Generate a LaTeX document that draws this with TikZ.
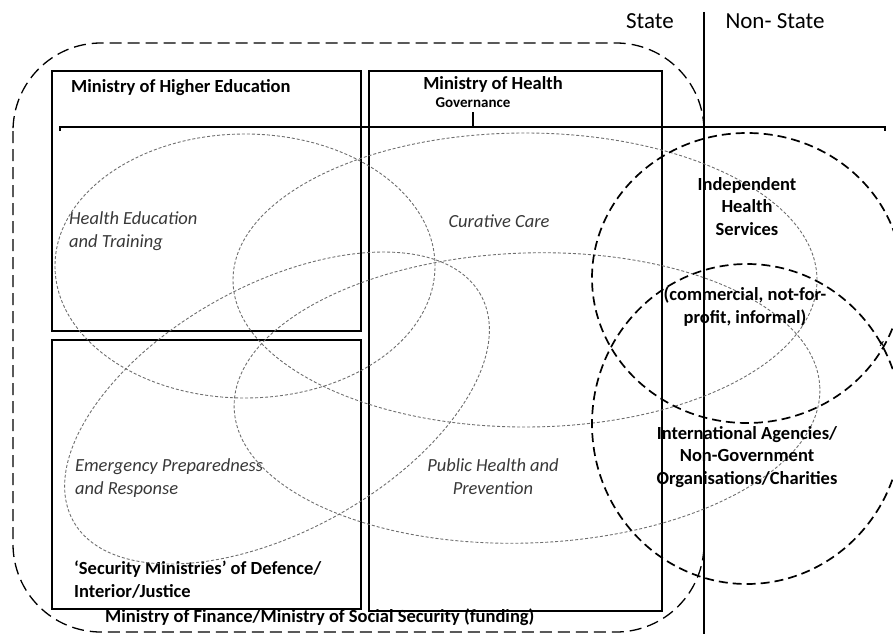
\documentclass[tikz,border=0pt]{standalone}
\usepackage{fontspec}
\setmainfont{Carlito}
\definecolor{areagray}{HTML}{6E6E6E}
\definecolor{labelgray}{HTML}{383838}
\begin{document}
\begin{tikzpicture}[x=1pt,y=-1pt,
    boxline/.style={line width=1.5pt},
    zone/.style={line width=1.3pt, dash pattern=on 12pt off 6pt},
    sector/.style={line width=1.7pt, dash pattern=on 9pt off 5pt},
    area/.style={areagray, line width=0.9pt, dash pattern=on 3pt off 2pt},
    ministry/.style={font=\bfseries\fontsize{18.5}{22.5}\selectfont, inner sep=0pt, align=left},
    function/.style={font=\itshape\fontsize{18.5}{22.5}\selectfont, text=labelgray, inner sep=0pt},
    nonstate/.style={font=\bfseries\fontsize{18.5}{22.5}\selectfont, inner sep=0pt, align=center},
    side/.style={font=\fontsize{23}{26}\selectfont, inner sep=0pt}]
    \useasboundingbox (0,0) rectangle (893,634);

    % Overall state boundary and the state / non-state split
    \draw[zone, rounded corners=88pt] (13,43) rectangle (704,632);
    \draw[boxline] (704,12) -- (704,634);
    \node[side, anchor=base] (state) at (650,29) {State};
    \node[side, anchor=base] (nonstate) at (775,29) {Non- State};

    % Governance bar
    \draw[line width=2pt] (60,131) -- (60,127) -- (885,127) -- (885,131);
    \draw[line width=2pt] (473,112) -- (473,127);

    % Ministries
    \draw[boxline] (52,71) rectangle (361,331);
    \draw[boxline] (52,340) rectangle (361,609);
    \draw[boxline] (369,71) rectangle (662,611);
    \node[ministry, anchor=base west] (mhe) at (71,92) {Ministry of Higher Education};
    \node[ministry, anchor=base] (moh) at (493,89) {Ministry of Health};
    \node[ministry, anchor=base, font=\bfseries\fontsize{15}{18}\selectfont] (gov) at (473,107) {Governance};
    \node[ministry, anchor=base west] (sec) at (74,597) {`Security Ministries' of Defence/\\Interior/Justice};
    \node[ministry, anchor=base west] (fin) at (105,622) {Ministry of Finance/Ministry of Social Security (funding)};

    % Health system functions
    \draw[area] (245,266) ellipse [x radius=190pt, y radius=132pt];
    \draw[area] (525,280) ellipse [x radius=292pt, y radius=147pt];
    \draw[area, rotate around={29:(277,408)}] (277,408) ellipse [x radius=233pt, y radius=123pt];
    \draw[area, rotate around={2:(527,398)}] (527,398) ellipse [x radius=293pt, y radius=145pt];
    \node[function, anchor=base west, align=left] (edu) at (69,247) {Health Education\\and Training};
    \node[function, anchor=base] (cure) at (499,227) {Curative Care};
    \node[function, anchor=base west, align=left] (emer) at (75,494) {Emergency Preparedness\\and Response};
    \node[function, anchor=base, align=center] (pub) at (493,494) {Public Health and\\Prevention};

    % Non-state providers
    \draw[sector] (747,278) ellipse [x radius=155pt, y radius=145pt];
    \draw[sector] (747,424) ellipse [x radius=155pt, y radius=160pt];
    \node[nonstate, anchor=base] (ind) at (747,235) {Independent\\Health\\Services};
    \node[nonstate, anchor=base] (kind) at (745,323) {(commercial, not-for-\\profit, informal)};
    \node[nonstate, anchor=base] (intl) at (747,484) {International Agencies/\\Non-Government\\Organisations/Charities};
    \node[font=\bfseries\fontsize{10}{12}\selectfont, inner sep=0pt] (cross) at (882,344) {x};
\end{tikzpicture}
\end{document}
